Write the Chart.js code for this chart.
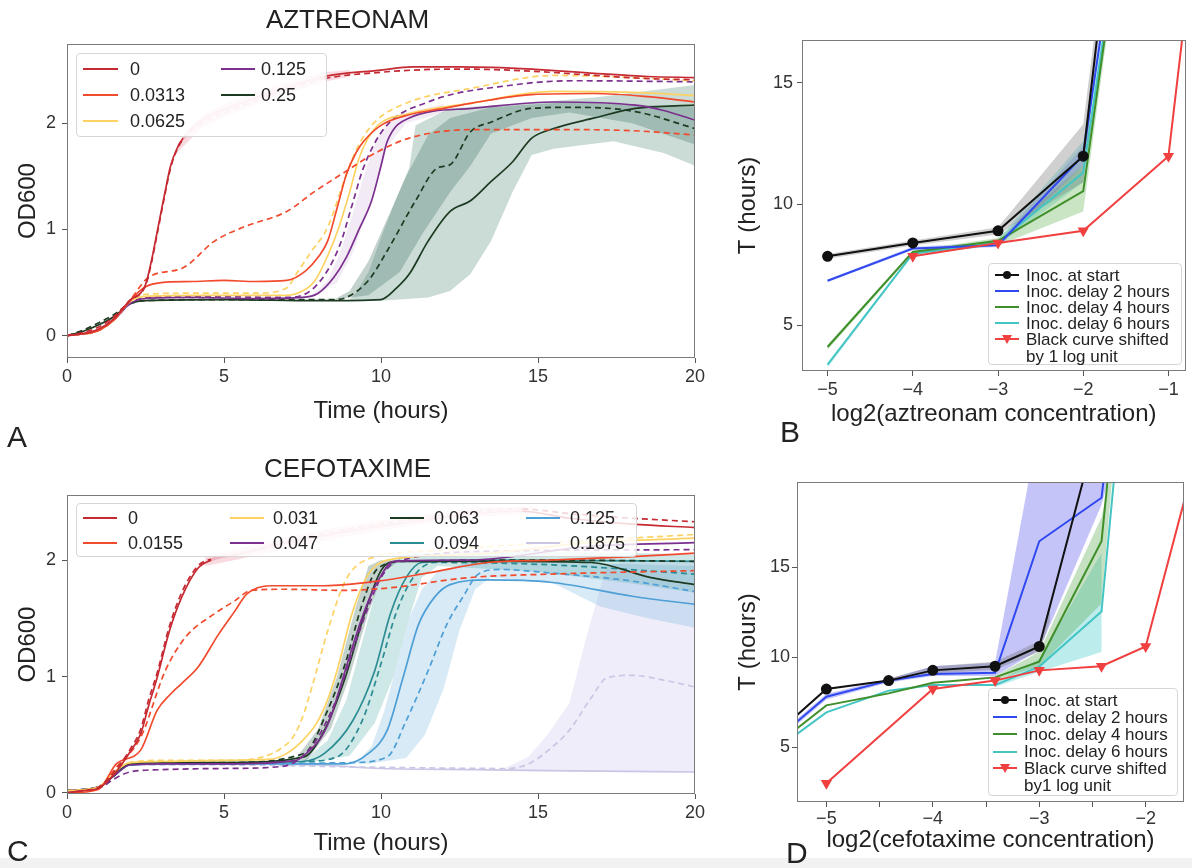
<!DOCTYPE html>
<html>
<head>
<meta charset="utf-8">
<script src="https://cdn.jsdelivr.net/npm/chart.js@4.4.0/dist/chart.umd.min.js"></script>
<style>
  body { margin: 0; background: #fff; font-family: "Liberation Sans", Arial, sans-serif; }
  #page { position: relative; width: 1192px; height: 868px; overflow: hidden; background: #fff; }
  canvas { position: absolute; }
  .legend { position: absolute; background: rgba(255,255,255,0.82); border: 1px solid #d6d6d6; border-radius: 4px; box-sizing: border-box; }
  .legend .txt { position: absolute; color: #222; white-space: nowrap; line-height: 1; }
  .legend .smp { position: absolute; height: 0; }
  .legend .dot { position: absolute; width: 8px; height: 8px; border-radius: 50%; background: #111; }
  .legend .tri { position: absolute; width: 0; height: 0; border-left: 5px solid transparent; border-right: 5px solid transparent; border-top: 9px solid #f04040; }
  .letter { position: absolute; font-size: 30px; line-height: 30px; color: #222; }
  #strip { position: absolute; left: 0; top: 858px; width: 1192px; height: 10px; background: #f2f2f2; }
</style>
</head>
<body>
<div id="page">
  <div id="strip"></div>
  <canvas id="chartA" width="720" height="440" style="left:0;top:0"></canvas>
  <canvas id="chartB" width="472" height="440" style="left:720px;top:0"></canvas>
  <canvas id="chartC" width="720" height="428" style="left:0;top:440px"></canvas>
  <canvas id="chartD" width="472" height="428" style="left:720px;top:440px"></canvas>
  <div class="letter" style="left:7px;top:422px">A</div>
  <div class="letter" style="left:780px;top:417px">B</div>
  <div class="letter" style="left:7px;top:836px">C</div>
  <div class="letter" style="left:786px;top:838px">D</div>
</div>
<script>
// ---------- AZTREONAM growth curves (time h, OD600) ----------
const aztConc = ['0', '0.0313', '0.0625', '0.125', '0.25'];
const azt0   = [[0,0],[0.5,0.02],[1,0.06],[1.5,0.16],[2,0.33],[2.5,0.48],[2.7,0.72],[2.9,1.02],[3.1,1.32],[3.3,1.6],[3.5,1.76],[3.7,1.86],[4.3,2.03],[5.2,2.15],[6.5,2.29],[8.2,2.44],[10,2.5],[11,2.53],[12.5,2.53],[14.8,2.51],[16.8,2.47],[18.5,2.44],[20,2.43]];
const azt0d  = [[0,0],[0.5,0.03],[1,0.08],[1.5,0.18],[2,0.33],[2.5,0.47],[2.7,0.7],[2.9,1.0],[3.1,1.3],[3.3,1.58],[3.5,1.75],[3.7,1.85],[4.3,2.0],[5.2,2.12],[6.5,2.27],[8.2,2.42],[10,2.48],[11,2.5],[12.5,2.51],[14.8,2.49],[16.8,2.45],[18.5,2.42],[20,2.41]];
const azt1   = [[0,0],[1,0.05],[1.5,0.15],[2,0.33],[2.5,0.46],[3,0.5],[4,0.51],[5,0.52],[6,0.51],[7,0.52],[7.6,0.61],[8,0.74],[8.3,0.89],[8.6,1.2],[8.9,1.52],[9.2,1.72],[9.45,1.83],[10,1.98],[10.9,2.08],[12,2.14],[12.9,2.19],[14.8,2.27],[16.8,2.28],[18.5,2.25],[20,2.2]];
const azt1d  = [[0,0],[1,0.05],[1.5,0.15],[2,0.33],[2.6,0.55],[3.7,0.64],[4.7,0.89],[5.6,1.02],[7,1.17],[7.9,1.36],[8.9,1.55],[9.7,1.7],[10.9,1.86],[12.9,1.94],[15.5,1.94],[18,1.93],[20,1.89]];
const azt2   = [[0,0],[1,0.05],[1.5,0.15],[2,0.32],[2.5,0.37],[4,0.38],[6,0.38],[7,0.38],[7.5,0.42],[7.9,0.52],[8.3,0.75],[8.66,1.02],[9,1.35],[9.3,1.67],[9.8,1.95],[10.9,2.09],[12.9,2.19],[15.5,2.3],[18,2.29],[20,2.26]];
const azt2d  = [[0,0],[1,0.05],[1.5,0.15],[2,0.32],[2.5,0.39],[4,0.4],[6,0.4],[7,0.45],[7.3,0.58],[7.8,0.8],[8.3,1.02],[8.9,1.52],[9.3,1.8],[9.8,2.01],[10.9,2.2],[12.9,2.33],[15.5,2.45],[18,2.43],[20,2.4]];
const azt3   = [[0,0],[1,0.05],[1.5,0.15],[2,0.3],[2.5,0.35],[4,0.36],[6,0.35],[7.5,0.36],[8,0.4],[8.5,0.55],[8.9,0.74],[9.3,1.0],[9.7,1.27],[10,1.6],[10.2,1.83],[10.9,2.05],[12.9,2.14],[15.5,2.2],[18.1,2.17],[19,2.12],[20,2.03]];
const azt3d  = [[0,0],[1,0.05],[1.5,0.15],[2,0.3],[2.5,0.36],[4,0.37],[7,0.36],[7.9,0.46],[8.66,0.83],[9.1,1.25],[9.44,1.58],[10.1,1.95],[11.5,2.2],[14.2,2.36],[16.1,2.4],[20,2.39]];
const azt4   = [[0,0],[0.5,0.04],[1,0.1],[1.5,0.18],[2,0.3],[2.5,0.33],[5,0.34],[8,0.33],[10,0.34],[10.5,0.45],[10.9,0.58],[11.5,0.89],[12.2,1.17],[12.85,1.27],[13.5,1.45],[14.2,1.64],[14.8,1.86],[15.5,1.95],[16.8,2.05],[18.1,2.14],[20,2.17]];
const azt4d  = [[0,0],[0.5,0.05],[1,0.12],[1.5,0.2],[2,0.3],[2.5,0.33],[5,0.34],[8.5,0.34],[8.9,0.36],[9.6,0.52],[10.2,0.8],[11.1,1.27],[11.8,1.58],[12.2,1.61],[12.85,1.92],[13.5,2.01],[14.8,2.14],[16.1,2.15],[18.1,2.11],[20,1.95]];
// spread bands: upper edge, lower edge
const azt0Hi  = [[3.5,1.8],[4.3,2.08],[5.2,2.2],[6.5,2.34],[8.2,2.48],[9,2.5]];
const azt0Lo  = [[3.5,1.72],[4.3,1.96],[5.2,2.08],[6.5,2.23],[8.2,2.39],[9,2.44]];
const azt4Hi  = [[9,0.34],[9.2,0.4],[9.6,0.6],[10.1,1.0],[10.5,1.3],[10.9,1.58],[11.1,1.98],[12.2,2.14],[14.8,2.19],[17,2.25],[20,2.36]];
const azt4Lo  = [[9,0.34],[10,0.33],[11.5,0.36],[12.2,0.42],[12.85,0.58],[13.5,0.89],[14.2,1.36],[14.8,1.7],[15.5,1.76],[17.4,1.83],[19,1.72],[20,1.6]];
const azt4dHi = [[8.5,0.34],[9,0.42],[9.6,0.7],[10.2,1.1],[10.8,1.5],[11.5,1.89],[12.2,2.05],[13.5,2.15],[16,2.2],[20,2.15]];
const azt4dLo = [[8.5,0.34],[9.6,0.38],[10.6,0.6],[11.3,0.95],[12.2,1.35],[12.85,1.6],[13.5,1.9],[14.8,2.05],[16,2.1],[18,2.0],[20,1.8]];
const azt3Hi  = [[7.8,0.38],[8.3,0.52],[8.7,0.78],[9.1,1.15],[9.5,1.55],[9.9,1.88],[10.5,2.08],[12,2.18]];
const azt3Lo  = [[7.8,0.36],[8.6,0.5],[9.1,0.78],[9.5,1.1],[9.9,1.45],[10.2,1.78],[10.8,2.0],[12,2.1]];

// ---------- CEFOTAXIME growth curves ----------
const cefConc = ['0', '0.0155', '0.031', '0.047', '0.063', '0.094', '0.125', '0.1875'];
const cef0   = [[0,0],[0.5,0.02],[1,0.04],[1.5,0.16],[2,0.35],[2.35,0.51],[2.6,0.75],[2.87,0.99],[3.26,1.39],[3.65,1.68],[4.17,1.93],[4.6,2.0],[5.5,2.05],[7,2.15],[9,2.25],[11,2.33],[13,2.4],[14.5,2.42],[16,2.36],[18,2.31],[20,2.28]];
const cef0d  = [[0,0],[0.5,0.02],[1,0.05],[1.5,0.18],[2,0.37],[2.35,0.55],[2.6,0.8],[2.87,1.03],[3.26,1.43],[3.65,1.72],[4.17,1.95],[4.6,2.01],[5.5,2.06],[7,2.16],[9,2.27],[11,2.35],[13,2.42],[14.5,2.44],[16,2.4],[18,2.36],[20,2.33]];
const cef1   = [[0,0],[1,0.03],[1.57,0.25],[2.35,0.37],[2.87,0.71],[3.3,0.85],[3.65,0.94],[4.17,1.08],[4.82,1.36],[5.34,1.56],[5.73,1.71],[6.5,1.78],[8.2,1.78],[9.9,1.82],[11.5,1.89],[13.4,1.98],[15.4,2.0],[18,2.03],[20,2.06]];
const cef1d  = [[0,0],[1,0.04],[1.57,0.22],[2.35,0.48],[3.13,1.05],[3.78,1.34],[4.7,1.54],[5.34,1.65],[5.86,1.74],[6.9,1.75],[8.86,1.74],[10.2,1.76],[12.8,1.85],[15.4,1.88],[20,1.91]];
const cef2   = [[0,0.02],[1,0.05],[1.5,0.18],[2,0.26],[3,0.27],[5,0.28],[6.5,0.29],[7,0.34],[7.5,0.45],[7.95,0.6],[8.3,0.8],[8.6,1.05],[9.1,1.56],[9.6,1.88],[10.2,2.0],[12.8,2.05],[16.7,2.15],[20,2.19]];
const cef2d  = [[0,0.02],[1,0.05],[1.5,0.18],[2,0.26],[3,0.28],[5,0.28],[6.25,0.31],[6.8,0.38],[7.2,0.48],[7.5,0.65],[7.8,0.91],[8.3,1.39],[8.86,1.82],[9.5,2.0],[11.5,2.08],[15.4,2.15],[20,2.22]];
const cef3   = [[0,0.02],[1,0.05],[1.5,0.15],[2,0.24],[3,0.25],[5,0.25],[7.3,0.28],[7.7,0.36],[8.1,0.48],[8.4,0.65],[8.7,0.91],[9.25,1.39],[9.6,1.65],[9.9,1.82],[10.4,1.99],[12.8,2.0],[16.7,2.12],[20,2.15]];
const cef3d  = [[0,0.02],[1,0.04],[1.5,0.12],[2,0.18],[3,0.2],[5,0.21],[6.9,0.23],[7.8,0.4],[8.2,0.58],[8.6,0.82],[9.25,1.34],[9.6,1.6],[10,1.85],[10.5,1.99],[14.1,2.08],[20,2.09]];
const cef4   = [[0,0.02],[1,0.05],[1.5,0.15],[2,0.25],[3,0.26],[5,0.26],[7.55,0.31],[8.2,0.54],[8.86,0.99],[9.5,1.56],[10,1.91],[10.5,1.99],[14.1,1.99],[16.7,1.98],[18.6,1.85],[20,1.79]];
const cef4d  = [[0,0.02],[1,0.05],[1.5,0.15],[2,0.25],[3,0.26],[5,0.26],[7.55,0.34],[8.3,0.71],[8.86,1.11],[9.4,1.62],[9.9,1.93],[10.8,1.99],[15.4,2.0],[20,1.99]];
const cef5   = [[0,0.02],[1,0.05],[1.5,0.15],[2,0.25],[3,0.26],[5,0.26],[7.5,0.27],[8.2,0.34],[9.1,0.62],[9.8,1.05],[10.3,1.54],[10.8,1.85],[11.3,1.98],[14.1,2.0],[20,1.99]];
const cef5d  = [[0,0.02],[1,0.05],[1.5,0.15],[2,0.25],[3,0.26],[5,0.26],[7.5,0.27],[8.6,0.31],[9.4,0.62],[10,1.11],[10.5,1.56],[11.1,1.88],[11.7,1.98],[15.4,1.96],[20,1.88]];
const cef6   = [[0,0.02],[1,0.05],[1.5,0.15],[2,0.24],[3,0.25],[5,0.25],[8.86,0.25],[9.6,0.34],[10.2,0.54],[10.7,0.99],[11.2,1.45],[11.7,1.68],[12.2,1.79],[13.4,1.83],[15.4,1.81],[18,1.69],[20,1.62]];
const cef6d  = [[0,0.02],[1,0.05],[1.5,0.15],[2,0.24],[3,0.25],[5,0.25],[9,0.26],[10.2,0.31],[10.8,0.62],[11.5,1.05],[12.1,1.45],[12.6,1.68],[13.1,1.88],[13.8,1.92],[15.4,1.89],[18,1.82],[20,1.73]];
const cef7   = [[0,0.02],[1,0.05],[1.5,0.15],[2,0.24],[5,0.25],[8,0.24],[10,0.21],[13,0.2],[16,0.19],[20,0.18]];
const cef7d  = [[0,0.02],[1,0.05],[1.5,0.15],[2,0.24],[5,0.24],[10,0.22],[14,0.21],[14.7,0.25],[15.3,0.36],[16,0.54],[16.7,0.82],[17.2,0.99],[18,1.01],[19,0.97],[20,0.91]];
const cef0Hi = [[4.4,2.03],[5.5,2.1],[7,2.2],[9,2.3],[11,2.38],[13,2.45],[14.8,2.46]];
const cef0Lo = [[4.4,1.95],[5.5,2.01],[7,2.1],[9,2.21],[11,2.3],[13,2.37],[14.8,2.4]];
const cef4Hi = [[7.3,0.3],[8,0.55],[8.6,1.0],[9.2,1.6],[9.6,1.95],[10,2.0]];
const cef4Lo = [[7.6,0.27],[8.4,0.55],[9,1.0],[9.6,1.55],[10.1,1.9],[10.6,2.0]];
const cef5Hi = [[7.5,0.27],[8.3,0.45],[8.9,0.8],[9.4,1.3],[9.8,1.7],[10.2,1.95],[10.7,2.05],[14,2.08],[20,2.05]];
const cef5Lo = [[7.5,0.25],[9,0.32],[9.8,0.6],[10.4,1.0],[10.9,1.5],[11.3,1.85],[11.8,1.95],[15,1.9],[18,1.8],[20,1.72]];
const cef6Hi = [[9.2,0.26],[9.7,0.4],[10.1,0.7],[10.5,1.1],[10.9,1.5],[11.3,1.75],[11.8,1.9],[13,2.0],[16,1.98],[20,1.95]];
const cef6Lo = [[9.6,0.25],[10.8,0.3],[11.4,0.5],[12,0.9],[12.5,1.4],[13,1.75],[13.5,1.85],[15.5,1.8],[17,1.6],[18.5,1.5],[20,1.42]];
const cef7Hi = [[14,0.22],[14.7,0.31],[15.3,0.5],[16,0.77],[16.5,1.3],[16.9,1.68],[17.2,1.95],[18,2.0],[20,2.0]];
const cef7Lo = [[14,0.2],[16,0.19],[20,0.18]];

// ---------- threshold time T vs log2 concentration ----------
const seriesNames = ['Inoc. at start', 'Inoc. delay 2 hours', 'Inoc. delay 4 hours', 'Inoc. delay 6 hours'];
const bX      = [-5, -4, -3, -2, -1];
const bStart  = [7.85, 8.40, 8.90, 11.98, 42];
const bDelay2 = [6.84, 8.17, 8.31, 12.02, 35.8];
const bDelay4 = [4.11, 8.03, 8.49, 10.54, 35.5];
const bDelay6 = [3.38, 7.96, 8.43, 11.3, 34.8];
const bShiftX = [-4, -3, -2, -1, 0];
const bStartHi  = [[-5,7.95],[-4,8.5],[-3,9.05],[-2,13.3],[-1.85,17.5]];
const bStartLo  = [[-5,7.75],[-4,8.3],[-3,8.75],[-2,10.9],[-1.8,17.5]];
const bDelay2Hi = [[-5,6.9],[-4,8.25],[-3,8.42],[-2,12.4],[-1.82,17.5]];
const bDelay2Lo = [[-5,6.78],[-4,8.1],[-3,8.22],[-2,11.6],[-1.78,17.5]];
const bDelay4Hi = [[-5,4.2],[-4,8.1],[-3,8.6],[-2,11.6],[-1.74,17.5]];
const bDelay4Lo = [[-5,4.0],[-4,7.95],[-3,8.3],[-2,9.7],[-1.7,17.5]];
const bDelay6Hi = [[-5,3.45],[-4,8.0],[-3,8.55],[-2,12.6],[-1.77,17.5]];
const bDelay6Lo = [[-5,3.25],[-4,7.9],[-3,8.3],[-2,10.9],[-1.73,17.5]];

const dX      = [-6, -5, -4.415, -4, -3.415, -3, -2.415, -2];
const dStart  = [2.98, 8.23, 8.70, 9.27, 9.50, 10.60, 23.7, 40];
const dDelay2 = [2.76, 7.80, 8.70, 9.07, 9.14, 16.46, 18.88, 40];
const dDelay4 = [2.65, 7.32, 7.99, 8.58, 8.88, 9.76, 16.46, 41];
const dDelay6 = [2.55, 6.93, 8.14, 8.45, 8.45, 9.48, 12.55, 38.6];
const dShiftX = [-5, -4, -3.415, -3, -2.415, -2, -1.415];
const dShift  = [2.98, 8.23, 8.70, 9.27, 9.50, 10.60, 23.7];
const dStartHi  = [[-4.415,8.8],[-4,9.5],[-3.415,9.75],[-3,10.9],[-2.9,13]];
const dStartLo  = [[-4.415,8.6],[-4,9.1],[-3.415,9.3],[-3,10.3],[-2.9,12]];
const dDelay2Hi = [[-6,2.9],[-5,7.95],[-4.415,8.8],[-4,9.5],[-3.415,9.7],[-3.1,19.8],[-3.05,21]];
const dDelay2Lo = [[-6,2.6],[-5,7.65],[-4.415,8.6],[-4,8.95],[-3.415,8.95],[-3,10.4],[-2.415,18.5],[-2.3,21]];
const dDelay4Hi = [[-3.415,8.95],[-3,10.3],[-2.415,17.8],[-2.3,21]];
const dDelay4Lo = [[-3.415,8.7],[-3,9.5],[-2.415,13.0],[-2.3,21]];
const dDelay6Hi = [[-3.415,8.6],[-3,9.9],[-2.415,15.8]];
const dDelay6Lo = [[-3.415,8.35],[-3,9.2],[-2.415,10.3]];

// ---------- helpers ----------
const DARKRED = '#c52a33', ORANGE = '#f24a2d', YELLOW = '#fdd262', PURPLE = '#7b2f8e', DKGREEN = '#1d3b22';
const TEAL = '#2b8c93', LBLUE = '#4d9fd6', LAVENDER = '#c9c6e6';
const BLACK = '#111', BLUE = '#3048f0', GREEN = '#3f8f2a', CYAN = '#45c4c4', RED = '#f04040';
const PINK = '#efb3bb';

const pts = a => a.map(p => ({x: p[0], y: p[1]}));
const zip = (xs, ys) => xs.map((x, i) => ({x: x, y: ys[i]}));

function curve(data, color, dashed, pink) {
  const ds = {
    data: pts(data), borderColor: color, borderWidth: 1.7, borderDash: dashed ? [6, 4] : [],
    pointRadius: 0, cubicInterpolationMode: 'monotone', fill: false, order: 0
  };
  if (pink) {
    ds.segment = { borderColor: c => (c.p0.parsed.x >= pink[0] && c.p1.parsed.x <= pink[1]) ? PINK : undefined };
  }
  return ds;
}

function band(upper, lower, color) {
  return {
    data: pts(upper.concat(lower.slice().reverse())), borderWidth: 0, pointRadius: 0,
    fill: 'shape', backgroundColor: color, tension: 0, order: 2
  };
}

function tline(xs, ys, color, marker) {
  return {
    data: zip(xs, ys), borderColor: color, backgroundColor: color, borderWidth: 2, tension: 0,
    pointRadius: marker ? 4.5 : 0, pointStyle: marker || 'circle', rotation: marker === 'triangle' ? 180 : 0,
    fill: false, order: 0
  };
}

const frame = {
  id: 'frame',
  afterDatasetsDraw(chart) {
    const {ctx, chartArea: a} = chart;
    ctx.save();
    ctx.strokeStyle = '#7a7a7a';
    ctx.lineWidth = 1;
    ctx.strokeRect(Math.round(a.left) + 0.5, Math.round(a.top) + 0.5, Math.round(a.right - a.left) - 1, Math.round(a.bottom - a.top) - 1);
    ctx.restore();
  }
};

const fmt = v => (Number.isInteger(v) ? String(v).replace('-', '\u2212') : '');

function options(o) {
  return {
    responsive: false, animation: false, events: [],
    layout: { padding: o.pad },
    plugins: {
      legend: { display: false },
      tooltip: { enabled: false },
      title: o.title ? { display: true, text: o.title, color: '#222', font: { size: 26, weight: 'normal' }, padding: o.titlePad } : { display: false }
    },
    scales: {
      x: {
        type: 'linear', min: o.x[0], max: o.x[1],
        afterFit: s => { s.height = o.xh; },
        border: { display: false },
        grid: { drawOnChartArea: false, drawTicks: true, tickLength: 5, color: '#555' },
        ticks: { stepSize: o.xs, includeBounds: false, autoSkip: false, maxRotation: 0, padding: o.xtick, color: '#333', font: { size: 18 }, callback: fmt },
        title: { display: true, text: o.xt, color: '#222', font: { size: 24 }, padding: { top: 0, bottom: o.xtp } }
      },
      y: {
        type: 'linear', min: o.y[0], max: o.y[1],
        afterFit: s => { s.width = o.yw; },
        border: { display: false },
        grid: { drawOnChartArea: false, drawTicks: true, tickLength: 5, color: '#555' },
        ticks: { stepSize: o.ys, includeBounds: false, autoSkip: false, padding: o.ytick, color: '#333', font: { size: 18 }, callback: fmt },
        title: { display: true, text: o.yt, color: '#222', font: { size: 24 }, padding: { top: o.ytp, bottom: 0 } }
      }
    }
  };
}

Chart.defaults.font.family = '"Liberation Sans", Arial, sans-serif';

// ---------- panel A ----------
new Chart(document.getElementById('chartA'), {
  type: 'line',
  data: { datasets: [
    curve(azt0, DARKRED, false, [3.6, 8.6]), curve(azt0d, DARKRED, true, [3.6, 8.6]),
    curve(azt1, ORANGE, false), curve(azt1d, ORANGE, true),
    curve(azt2, YELLOW, false), curve(azt2d, YELLOW, true),
    curve(azt3, PURPLE, false), curve(azt3d, PURPLE, true),
    curve(azt4, DKGREEN, false), curve(azt4d, DKGREEN, true),
    band(azt0Hi, azt0Lo, 'rgba(235,150,165,0.35)'),
    band(azt3Hi, azt3Lo, 'rgba(150,90,170,0.12)'),
    band(azt4Hi, azt4Lo, 'rgba(70,130,110,0.28)'),
    band(azt4dHi, azt4dLo, 'rgba(40,95,75,0.28)')
  ] },
  options: options({
    pad: { left: 0, right: 25, top: 0, bottom: 0 }, title: 'AZTREONAM', titlePad: { top: 5, bottom: 8 },
    x: [0, 20], xs: 5, xh: 82, xt: 'Time (hours)', xtp: 14, xtick: 3,
    y: [-0.21, 2.744], ys: 1, yw: 67, yt: 'OD600', ytp: 14, ytick: 6
  }),
  plugins: [frame]
});

// ---------- panel C ----------
new Chart(document.getElementById('chartC'), {
  type: 'line',
  data: { datasets: [
    curve(cef0, DARKRED, false, [4.5, 14.8]), curve(cef0d, DARKRED, true, [4.5, 14.8]),
    curve(cef1, ORANGE, false), curve(cef1d, ORANGE, true),
    curve(cef2, YELLOW, false), curve(cef2d, YELLOW, true),
    curve(cef3, PURPLE, false), curve(cef3d, PURPLE, true),
    curve(cef4, DKGREEN, false), curve(cef4d, DKGREEN, true),
    curve(cef5, TEAL, false), curve(cef5d, TEAL, true),
    curve(cef6, LBLUE, false), curve(cef6d, LBLUE, true),
    curve(cef7, LAVENDER, false), curve(cef7d, LAVENDER, true),
    band(cef0Hi, cef0Lo, 'rgba(235,150,165,0.35)'),
    band(cef4Hi, cef4Lo, 'rgba(40,95,75,0.28)'),
    band(cef5Hi, cef5Lo, 'rgba(60,160,160,0.25)'),
    band(cef6Hi, cef6Lo, 'rgba(100,170,220,0.25)'),
    band(cef7Hi, cef7Lo, 'rgba(200,195,235,0.3)')
  ] },
  options: options({
    pad: { left: 0, right: 25, top: 0, bottom: 0 }, title: 'CEFOTAXIME', titlePad: { top: 14, bottom: 10 },
    x: [0, 20], xs: 5, xh: 74, xt: 'Time (hours)', xtp: 10, xtick: 3,
    y: [-0.009, 2.558], ys: 1, yw: 67, yt: 'OD600', ytp: 14, ytick: 6
  }),
  plugins: [frame]
});

// ---------- panel B ----------
new Chart(document.getElementById('chartB'), {
  type: 'line',
  data: { datasets: [
    tline(bX, bStart, BLACK, 'circle'),
    tline(bShiftX, bStart, RED, 'triangle'),
    tline(bX, bDelay2, BLUE), tline(bX, bDelay4, GREEN), tline(bX, bDelay6, CYAN),
    band(bStartHi, bStartLo, 'rgba(120,120,120,0.35)'),
    band(bDelay2Hi, bDelay2Lo, 'rgba(60,80,255,0.2)'),
    band(bDelay4Hi, bDelay4Lo, 'rgba(80,170,60,0.3)'),
    band(bDelay6Hi, bDelay6Lo, 'rgba(64,200,200,0.3)')
  ] },
  options: options({
    pad: { left: 0, right: 6, top: 40, bottom: 0 },
    x: [-5.30, -0.80], xs: 1, xh: 69, xt: 'log2(aztreonam concentration)', xtp: 11, xtick: 3,
    y: [3.12, 16.77], ys: 5, yw: 82, yt: 'T (hours)', ytp: 14, ytick: 4
  }),
  plugins: [frame]
});

// ---------- panel D ----------
new Chart(document.getElementById('chartD'), {
  type: 'line',
  data: { datasets: [
    tline(dX, dStart, BLACK, 'circle'),
    tline(dShiftX, dShift, RED, 'triangle'),
    tline(dX, dDelay2, BLUE), tline(dX, dDelay4, GREEN), tline(dX, dDelay6, CYAN),
    band(dStartHi, dStartLo, 'rgba(110,110,110,0.35)'),
    band(dDelay2Hi, dDelay2Lo, 'rgba(100,100,240,0.38)'),
    band(dDelay4Hi, dDelay4Lo, 'rgba(90,170,80,0.35)'),
    band(dDelay6Hi, dDelay6Lo, 'rgba(64,200,200,0.35)')
  ] },
  options: options({
    pad: { left: 0, right: 8, top: 42, bottom: 0 },
    x: [-5.276, -1.64], xs: 0.5, xh: 66, xt: 'log2(cefotaxime concentration)', xtp: 13, xtick: 1,
    y: [1.94, 19.76], ys: 5, yw: 77, yt: 'T (hours)', ytp: 14, ytick: 2
  }),
  plugins: [frame]
});

// ---------- legends (HTML overlays) ----------
function addLegend(box, fontSize, items) {
  const el = document.createElement('div');
  el.className = 'legend';
  el.style.left = box[0] + 'px'; el.style.top = box[1] + 'px';
  el.style.width = box[2] + 'px'; el.style.height = box[3] + 'px';
  items.forEach(it => {
    const s = document.createElement('div');
    s.className = 'smp';
    s.style.left = it.lx + 'px'; s.style.top = (it.cy - 1) + 'px'; s.style.width = it.lw + 'px';
    s.style.borderTop = '2px solid ' + it.color;
    el.appendChild(s);
    if (it.marker === 'dot') {
      const m = document.createElement('div'); m.className = 'dot';
      m.style.left = (it.lx + it.lw / 2 - 4) + 'px'; m.style.top = (it.cy - 4) + 'px';
      el.appendChild(m);
    } else if (it.marker === 'tri') {
      const m = document.createElement('div'); m.className = 'tri';
      m.style.left = (it.lx + it.lw / 2 - 5) + 'px'; m.style.top = (it.cy - 4) + 'px';
      el.appendChild(m);
    }
    const step = it.step || 0;
    it.text.forEach((t, k) => {
      const d = document.createElement('div');
      d.className = 'txt'; d.textContent = t;
      d.style.fontSize = fontSize + 'px';
      d.style.left = it.tx + 'px';
      d.style.top = (it.cy - fontSize / 2 + k * step) + 'px';
      el.appendChild(d);
    });
  });
  document.getElementById('page').appendChild(el);
}

const aColors = [DARKRED, ORANGE, YELLOW, PURPLE, DKGREEN];
const aCols = [[6, 35, 53], [144, 34, 184]];
addLegend([76, 53, 251, 84], 18, aztConc.map((c, i) => {
  const col = i < 3 ? 0 : 1, row = i < 3 ? i : i - 3;
  return { lx: aCols[col][0], lw: aCols[col][1], tx: aCols[col][2], cy: 15 + row * 26, color: aColors[i], text: [c] };
}));

const cColors = [DARKRED, ORANGE, YELLOW, PURPLE, DKGREEN, TEAL, LBLUE, LAVENDER];
const cCols = [[6, 34, 51], [153, 34, 196], [313, 34, 357], [449, 34, 493]];
addLegend([76, 503, 561, 54], 18, cefConc.map((c, i) => {
  const col = Math.floor(i / 2), row = i % 2;
  return { lx: cCols[col][0], lw: cCols[col][1], tx: cCols[col][2], cy: 14 + row * 25, color: cColors[i], text: [c] };
}));

const tColors = [BLACK, BLUE, GREEN, CYAN];
addLegend([988, 263, 194, 102], 17, seriesNames.map((n, i) => (
  { lx: 6, lw: 24, tx: 37, cy: 11 + i * 16, color: tColors[i], marker: i === 0 ? 'dot' : null, text: [n] }
)).concat([{ lx: 6, lw: 24, tx: 37, cy: 75, color: RED, marker: 'tri', step: 17, text: ['Black curve shifted', 'by 1 log unit'] }]));

addLegend([988, 688, 190, 108], 17, seriesNames.map((n, i) => (
  { lx: 4, lw: 24, tx: 35, cy: 11 + i * 17.2, color: tColors[i], marker: i === 0 ? 'dot' : null, text: [n] }
)).concat([{ lx: 4, lw: 24, tx: 35, cy: 79, color: RED, marker: 'tri', step: 17, text: ['Black curve shifted', 'by1 log unit'] }]));
</script>
</body>
</html>
